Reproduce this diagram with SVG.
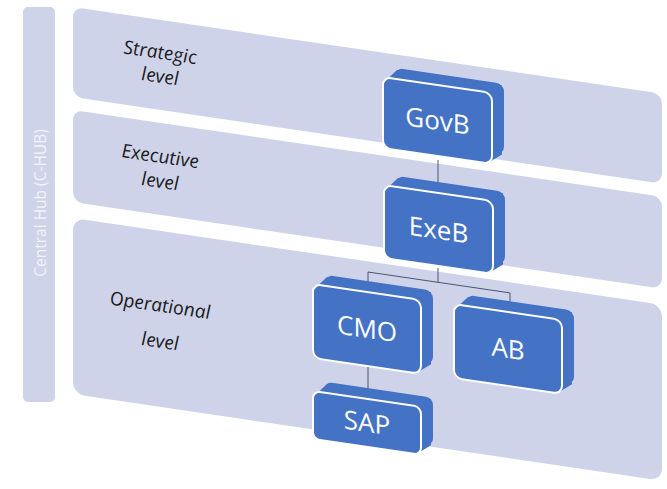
<svg xmlns="http://www.w3.org/2000/svg" width="667" height="489" viewBox="0 0 667 489">
<style>
.panel{fill:#CED3E9;}
.lvl{font-family:"Open Sans","DejaVu Sans",sans-serif;font-style:italic;font-size:19px;fill:#1c1c1c;text-anchor:middle;}
.box{fill:#4472C4;}
.front{fill:#4472C4;stroke:#FFFFFF;stroke-width:2;}
.lbl{font-family:"Open Sans","DejaVu Sans",sans-serif;font-size:26px;fill:#FFFFFF;text-anchor:middle;}
.conn{stroke:#4A5670;stroke-width:1;fill:none;}
.hub{font-family:"Open Sans","DejaVu Sans",sans-serif;font-size:15.5px;fill:#F2F4FA;text-anchor:middle;}
</style>
<rect width="667" height="489" fill="#FFFFFF"/>
<g id="hub">
<rect class="panel" x="23" y="7" width="32" height="395" rx="5"/>
<text class="hub" transform="translate(46,203) rotate(-90)">Central Hub (C-HUB)</text>
</g>
<g id="strategic-level" transform="translate(73,7) skewY(8.37)">
<rect class="panel" x="0" y="0" width="589" height="90" rx="10"/>
<text class="lvl" x="87" y="39">Strategic</text>
<text class="lvl" x="87" y="63">level</text>
</g>
<g id="executive-level" transform="translate(73,110) skewY(8.37)">
<rect class="panel" x="0" y="0" width="589" height="92" rx="10"/>
<text class="lvl" x="87" y="40">Executive</text>
<text class="lvl" x="87" y="65">level</text>
</g>
<g id="operational-level" transform="translate(73,218) skewY(8.37)">
<rect class="panel" x="0" y="0" width="589" height="176" rx="12"/>
<text class="lvl" x="87" y="81">Operational</text>
<text class="lvl" x="87" y="117">level</text>
</g>
<g id="connectors">
<path class="conn" d="M438,160 V186"/>
<path class="conn" d="M438,268 V283"/>
<path class="conn" d="M368,272 L510,292.9"/>
<path class="conn" d="M368,272 V290"/>
<path class="conn" d="M510,292.9 V310"/>
<path class="conn" d="M368,365 V396"/>
</g>
<g id="GovB" transform="translate(383,77) skewY(8.37)">
<rect class="box" x="12" y="-11" width="109" height="71" rx="8"/>
<path class="box" d="M2,4 L14,-9 L119,-9 L119,60 L107,69 L2,69 Z"/>
<rect class="front" x="0" y="0" width="109" height="71" rx="8"/>
<text class="lbl" x="54.5" y="45">GovB</text>
</g>
<g id="ExeB" transform="translate(384,185) skewY(8.37)">
<rect class="box" x="12" y="-11" width="109" height="73" rx="8"/>
<path class="box" d="M2,4 L14,-9 L119,-9 L119,62 L107,71 L2,71 Z"/>
<rect class="front" x="0" y="0" width="109" height="73" rx="8"/>
<text class="lbl" x="54.5" y="46">ExeB</text>
</g>
<g id="CMO" transform="translate(313,284) skewY(8.37)">
<rect class="box" x="12" y="-11" width="108" height="74" rx="8"/>
<path class="box" d="M2,4 L14,-9 L118,-9 L118,63 L106,72 L2,72 Z"/>
<rect class="front" x="0" y="0" width="108" height="74" rx="8"/>
<text class="lbl" x="54" y="46">CMO</text>
</g>
<g id="AB" transform="translate(454,304) skewY(8.37)">
<rect class="box" x="12" y="-11" width="108" height="74" rx="8"/>
<path class="box" d="M2,4 L14,-9 L118,-9 L118,63 L106,72 L2,72 Z"/>
<rect class="front" x="0" y="0" width="108" height="74" rx="8"/>
<text class="lbl" x="54" y="46">AB</text>
</g>
<g id="SAP" transform="translate(313,391) skewY(8.37)">
<rect class="box" x="12" y="-11" width="108" height="48" rx="7"/>
<path class="box" d="M2,4 L14,-9 L118,-9 L118,37 L106,46 L2,46 Z"/>
<rect class="front" x="0" y="0" width="108" height="48" rx="7"/>
<text class="lbl" x="54" y="33">SAP</text>
</g>
</svg>
